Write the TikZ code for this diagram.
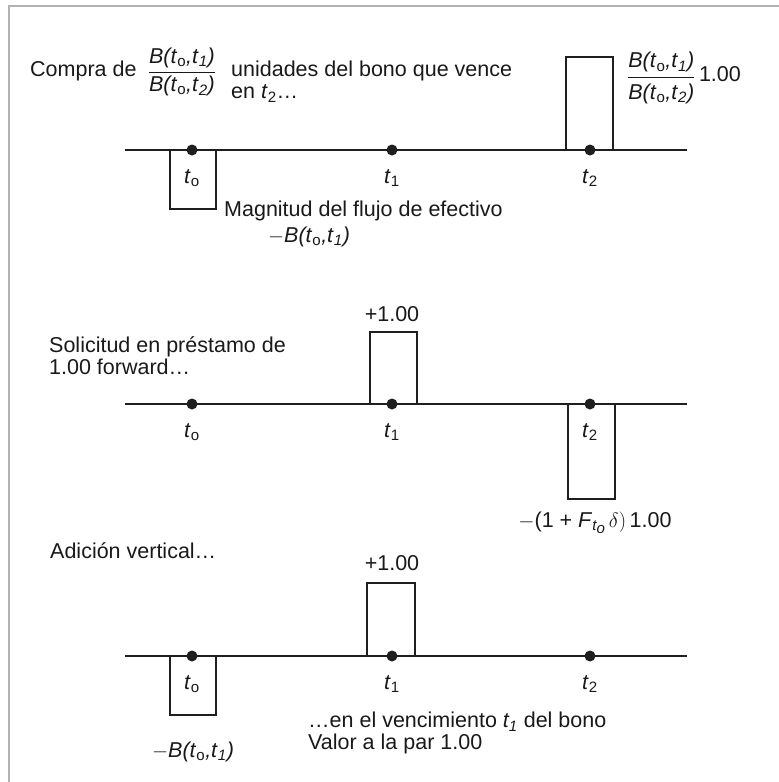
\documentclass[tikz,border=0pt]{standalone}
\usepackage{fontspec}
\setmainfont{Liberation Sans}
\usetikzlibrary{positioning}
\newcommand\Btt[1]{\textit{B(t}\textsubscript{o}\textit{,t}\textsubscript{\textit{#1}}\textit{)}}
\newcommand\tl[1]{\textit{t}\textsubscript{#1}}
\newcommand\fracB[1][0pt]{$\displaystyle\frac{\hbox{\Btt{1}\rule[-#1]{0pt}{#1}}}{\hbox{\rule{0pt}{\dimexpr15pt+#1\relax}\Btt{2}}}$}
\tikzset{
  tdot/.style={circle,fill=black!88,inner sep=0pt,minimum size=11pt},
  flow/.style={line width=1.6pt,black!88},
  axisline/.style={line width=1.3pt,black!88},
  lbl/.style={inner sep=0pt,text=black!90},
}
\begin{document}
\begin{tikzpicture}[x=1pt,y=-1pt,font=\fontsize{21.5}{22}\selectfont]
\useasboundingbox (0,0) rectangle (779,782);
\draw[black!30,line width=2.5pt] (9,782) -- (9,6) -- (779,6);
% three time lines
\foreach \y/\p in {150/a,404/b,656/c}{
  \draw[axisline] (125,\y) -- (687,\y);
  \foreach \x/\t in {192/0,392/1,590/2}
    \node[tdot] (\p\t) at (\x,\y) {};
  \node[lbl] at (192,\y+28) {\tl{o}};
  \node[lbl] at (392,\y+28) {\tl{1}};
  \node[lbl] at (590,\y+28) {\tl{2}};
}
% bond purchase
\draw[flow] (170,150) -- (170,209) -- (216,209) -- (216,150);
\draw[flow] (566,150) -- (566,57) -- (613,57) -- (613,150);
\node[lbl,anchor=west] (compra) at (30,71) {Compra de};
\node[lbl] (fraca) at (182,72) {\fracB};
\node[lbl,anchor=north west,align=left] (unid) at (231,61) {unidades del bono que vence\\en \tl{2}…};
\node[lbl,anchor=west] (fracb) at (627,78) {\fracB[6pt]\,1.00};
\node[lbl,anchor=west] (magn) at (224,211) {Magnitud del flujo de efectivo};
\node[lbl] (mba) at (309,237) {$-$\Btt{1}};
% forward loan
\draw[flow] (370,404) -- (370,332) -- (417,332) -- (417,404);
\draw[flow] (568,404) -- (568,499) -- (615,499) -- (615,404);
\node[lbl] (pb) at (392,314) {+1.00};
\node[lbl,anchor=north west,align=left] (solic) at (49,336) {Solicitud en préstamo de\\1.00 forward…};
\node[lbl] (repay) at (595,523) {$-$(1 + \textit{F}\textsubscript{\textit{t\raisebox{-3pt}{o}}}\,$\delta)$\,1.00};
% sum
\draw[flow] (170,656) -- (170,715) -- (216,715) -- (216,656);
\draw[flow] (367,656) -- (367,583) -- (415,583) -- (415,656);
\node[lbl] (pc) at (392,563) {+1.00};
\node[lbl,anchor=west] (suma) at (50,551) {Adición vertical…};
\node[lbl] (mbc) at (193,752) {$-$\Btt{1}};
\node[lbl,anchor=north west,align=left] (venc) at (308,712) {…en el vencimiento \textit{t\textsubscript{1}} del bono\\Valor a la par 1.00};
\end{tikzpicture}
\end{document}
